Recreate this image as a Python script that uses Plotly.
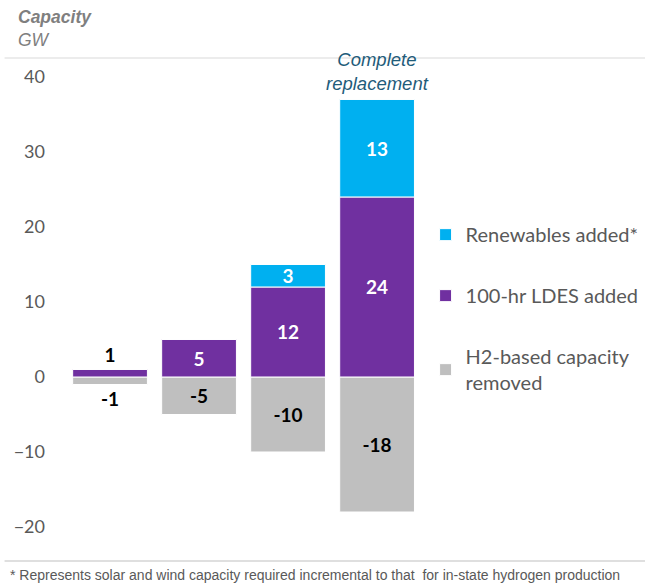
import plotly.graph_objects as go

# Scenario columns (left to right) and capacity changes in GW
scenarios = [0, 1, 2, 3]
h2_removed = [-1, -5, -10, -18]
ldes_added = [1, 5, 12, 24]
renewables_added = [None, None, 3, 13]

BLUE = "#00B0F0"
PURPLE = "#7030A0"
GRAY = "#BFBFBF"
TEXT_GRAY = "#595959"
LABEL_FONT = "Lato, Calibri, Arial, sans-serif"
LABEL_SIZE = 19

def fmt(vals):
    return ["" if v is None else f"{v}" for v in vals]

fig = go.Figure()

fig.add_trace(go.Bar(
    x=scenarios, y=h2_removed, name="H2-based capacity<br>removed",
    marker=dict(color=GRAY, line=dict(color="white", width=1)),
    text=fmt(h2_removed),
    textposition=["outside", "inside", "inside", "inside"],
    insidetextanchor="middle", textangle=0,
    textfont=dict(family=LABEL_FONT, size=LABEL_SIZE, color="black", weight="bold"),
    cliponaxis=False, legendgroup="h2", legendrank=3,
))
fig.add_trace(go.Bar(
    x=scenarios, y=ldes_added, name="100-hr LDES added",
    marker=dict(color=PURPLE, line=dict(color="white", width=1)),
    text=fmt(ldes_added),
    textposition=["outside", "inside", "inside", "inside"],
    insidetextanchor="middle", textangle=0,
    textfont=dict(family=LABEL_FONT, size=LABEL_SIZE, weight="bold",
                  color=["black", "white", "white", "white"]),
    cliponaxis=False, legendgroup="ldes", legendrank=2,
))
fig.add_trace(go.Bar(
    x=scenarios, y=renewables_added, name="Renewables added*",
    marker=dict(color=BLUE, line=dict(color="white", width=1)),
    text=fmt(renewables_added),
    textposition="inside", insidetextanchor="middle", textangle=0,
    textfont=dict(family=LABEL_FONT, size=LABEL_SIZE, color="white", weight="bold"),
    cliponaxis=False, legendgroup="ren", legendrank=1,
))

fig.update_layout(
    width=645, height=583,
    margin=dict(l=52, r=0, t=55, b=26),
    barmode="relative",
    bargap=0.16,
    uniformtext=dict(minsize=LABEL_SIZE, mode="show"),
    plot_bgcolor="white", paper_bgcolor="white",
    showlegend=True,
    legend=dict(
        x=0.63, y=0.681, xanchor="left", yanchor="top",
        traceorder="grouped", tracegroupgap=32,
        font=dict(family=LABEL_FONT, size=20, color=TEXT_GRAY),
        bgcolor="rgba(0,0,0,0)",
    ),
    xaxis=dict(range=[-0.652, 6.01], showticklabels=False, showgrid=False,
               zeroline=False, showline=False, ticks=""),
    yaxis=dict(range=[-24, 42.93], tickvals=[-20, -10, 0, 10, 20, 30, 40],
               showgrid=False, zeroline=False, showline=False, ticks="",
               ticklabelstandoff=6,
               tickfont=dict(family=LABEL_FONT, size=18, color=TEXT_GRAY)),
    shapes=[
        dict(type="line", xref="paper", yref="paper", x0=-0.08, x1=1.0,
             y0=1.0 - (58 - 55) / 502, y1=1.0 - (58 - 55) / 502,
             line=dict(color="#D9D9D9", width=1)),
        dict(type="line", xref="paper", yref="paper", x0=-0.08, x1=1.0,
             y0=-(561 - 557) / 502, y1=-(561 - 557) / 502,
             line=dict(color="#BFBFBF", width=1)),
    ],
    annotations=[
        dict(text="<b><i>Capacity</i></b>", xref="paper", yref="paper",
             x=-0.06, y=1.0 + (55 - 17) / 502, xanchor="left", yanchor="middle",
             showarrow=False, font=dict(family="Arial, sans-serif", size=17.5, color="#7F7F7F")),
        dict(text="<i>GW</i>", xref="paper", yref="paper",
             x=-0.06, y=1.0 + (55 - 40) / 502, xanchor="left", yanchor="middle",
             showarrow=False, font=dict(family="Arial, sans-serif", size=17.5, color="#7F7F7F")),
        dict(text="<i>Complete<br>replacement</i>", x=3, y=36.9 + 0.55,
             xref="x", yref="y", xanchor="center", yanchor="bottom",
             showarrow=False,
             font=dict(family="Arial, sans-serif", size=18.5, color="#1F5C7A")),
        dict(text="* Represents solar and wind capacity required incremental to that  for in-state hydrogen production",
             xref="paper", yref="paper", x=-0.075, y=-(575 - 557) / 502,
             xanchor="left", yanchor="middle", showarrow=False,
             font=dict(family="Arial, sans-serif", size=14, color=TEXT_GRAY)),
    ],
)

fig.write_html("out.html")
